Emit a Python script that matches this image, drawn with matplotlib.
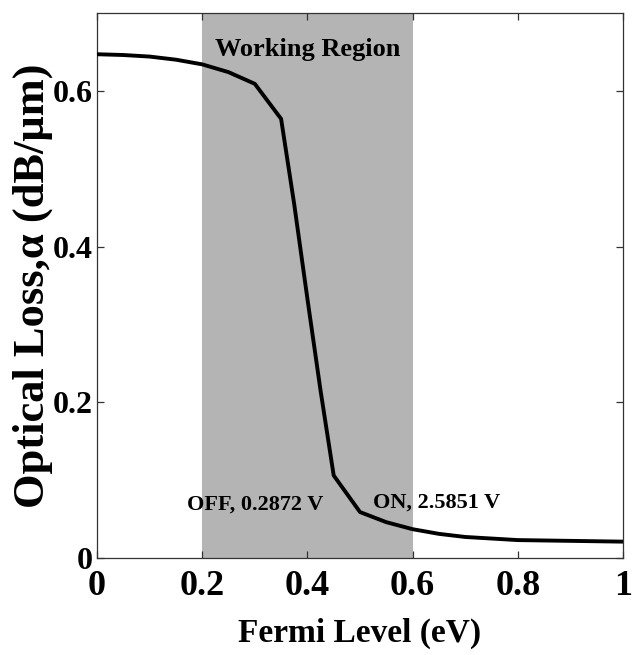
import matplotlib
matplotlib.use("Agg")
import matplotlib.pyplot as plt

# values
fermi = [0.0, 0.05, 0.10, 0.15, 0.20, 0.25, 0.30, 0.35, 0.375, 0.40, 0.425,
         0.45, 0.50, 0.55, 0.60, 0.65, 0.70, 0.75, 0.80, 0.90, 1.0]
loss = [0.647, 0.646, 0.644, 0.640, 0.634, 0.624, 0.609, 0.564, 0.454, 0.333,
        0.215, 0.106, 0.059, 0.046, 0.037, 0.031, 0.027, 0.025, 0.023, 0.022, 0.021]

region = (0.2, 0.6)
xticks = [0, 0.2, 0.4, 0.6, 0.8, 1]
xticklabels = ["0", "0.2", "0.4", "0.6", "0.8", "1"]
yticks = [0, 0.2, 0.4, 0.6]
yticklabels = ["0", "0.2", "0.4", "0.6"]

plt.rcParams['font.family'] = ['Liberation Serif', 'DejaVu Serif']
plt.rcParams['font.weight'] = 'bold'

fig = plt.figure(figsize=(6.36, 6.55), dpi=100)
ax = fig.add_axes([0.1525, 0.1481, 0.8271, 0.8321])

ax.axvspan(region[0], region[1], color='#b4b4b4', lw=0, zorder=0)
ax.plot(fermi, loss, color='black', lw=2.8, zorder=3)

ax.text(0.4, 0.645, "Working Region", ha='center', va='baseline',
        fontsize=19, fontweight='bold')
ax.text(0.171, 0.062, "OFF, 0.2872 V", ha='left', va='baseline',
        fontsize=16, fontweight='bold')
ax.text(0.525, 0.065, "ON, 2.5851 V", ha='left', va='baseline',
        fontsize=16, fontweight='bold')

ax.set_xlim(0, 1)
ax.set_ylim(0, 0.7)
ax.set_xticks(xticks)
ax.set_xticklabels(xticklabels)
ax.set_yticks(yticks)
ax.set_yticklabels(yticklabels)
ax.tick_params(axis='both', direction='in', top=True, right=True,
               length=5, width=0.9, color='#333333')
ax.tick_params(axis='x', labelsize=26, pad=9)
ax.tick_params(axis='y', labelsize=23, pad=3)
for lab in ax.get_xticklabels() + ax.get_yticklabels():
    lab.set_fontweight('bold')
for sp in ax.spines.values():
    sp.set_linewidth(0.9)
    sp.set_color('#333333')

ax.set_xlabel("Fermi Level (eV)", fontsize=24, fontweight='bold', labelpad=10)
ax.set_ylabel("Optical Loss,α (dB/μm)", fontsize=32, fontweight='bold', labelpad=0)

fig.savefig("out.png", dpi=100)
